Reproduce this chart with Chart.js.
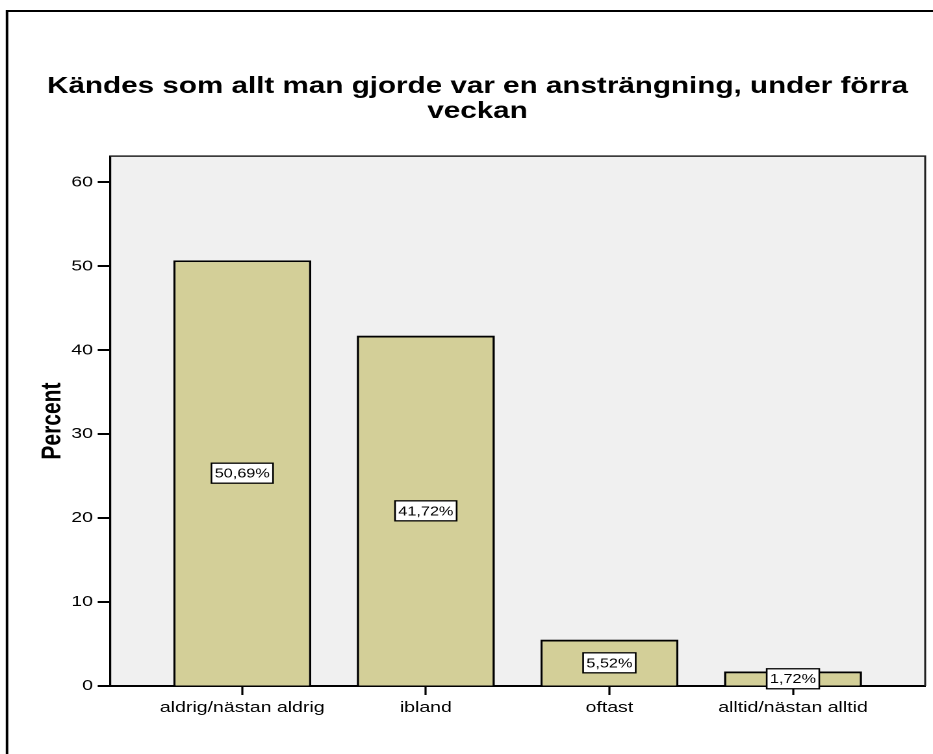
<!DOCTYPE html>
<html>
<head>
<meta charset="utf-8">
<script src="https://cdn.jsdelivr.net/npm/chart.js@4.4.0/dist/chart.umd.min.js"></script>
<style>
  html, body { margin: 0; padding: 0; background: #fff; overflow: hidden; }
  /* the original picture is stretched sideways, so the whole chart is drawn narrow and widened */
  #wrap { width: 718px; height: 754px; transform: scaleX(1.2994); transform-origin: 0 0; }
</style>
</head>
<body>
<div id="wrap"><canvas id="canvas" width="718" height="754"></canvas></div>
<script>
const chartTitle = ['Kändes som allt man gjorde var en ansträngning, under förra', 'veckan'];
const categories = ['aldrig/nästan aldrig', 'ibland', 'oftast', 'alltid/nästan alltid'];
const percents = [50.69, 41.72, 5.52, 1.72];
const yTicks = [0, 10, 20, 30, 40, 50, 60];

const FONT = "'Liberation Sans', Arial, sans-serif";

// grey plot area, frame and the outer page border
const framePlugin = {
    id: 'frame',
    beforeDraw(chart) {
        const ctx = chart.ctx, a = chart.chartArea;
        ctx.save();
        ctx.fillStyle = '#f0f0f0';
        ctx.fillRect(a.left, a.top, a.right - a.left, a.bottom - a.top);
        ctx.strokeStyle = '#000';
        ctx.lineWidth = 2;
        ctx.beginPath();
        ctx.moveTo(5.4, 754);
        ctx.lineTo(5.4, 11);
        ctx.lineTo(718, 11);
        ctx.stroke();
        ctx.restore();
    },
    afterDatasetsDraw(chart) {
        const ctx = chart.ctx, a = chart.chartArea;
        ctx.save();
        ctx.strokeStyle = '#222';
        ctx.lineWidth = 1.5;
        ctx.beginPath();
        ctx.moveTo(a.left, a.top);
        ctx.lineTo(a.right, a.top);
        ctx.lineTo(a.right, a.bottom);
        ctx.stroke();

        // value boxes in the middle of each bar
        const meta = chart.getDatasetMeta(0);
        const y = chart.scales.y;
        ctx.font = '12.5px ' + FONT;
        ctx.textAlign = 'center';
        ctx.textBaseline = 'middle';
        meta.data.forEach((bar, i) => {
            const txt = percents[i].toFixed(2).replace('.', ',') + '%';
            const w = ctx.measureText(txt).width + 5;
            const h = 20;
            const cy = y.getPixelForValue(percents[i] / 2);
            ctx.fillStyle = '#fff';
            ctx.fillRect(bar.x - w / 2, cy - h / 2, w, h);
            ctx.strokeStyle = '#000';
            ctx.lineWidth = 1.3;
            ctx.strokeRect(bar.x - w / 2, cy - h / 2, w, h);
            ctx.fillStyle = '#000';
            ctx.fillText(txt, bar.x, cy + 1);
        });
        ctx.restore();
    }
};

const ctx = document.getElementById('canvas').getContext('2d');
const myChart = new Chart(ctx, {
    type: 'bar',
    data: {
        datasets: [{
            label: 'Percent',
            data: percents.map((v, i) => ({x: i, y: v})),
            backgroundColor: '#d3cf98',
            borderColor: '#000',
            borderWidth: 1.8,
            categoryPercentage: 0.752,
            barPercentage: 1
        }]
    },
    options: {
        responsive: false,
        devicePixelRatio: 2,
        animation: false,
        layout: { padding: { left: 23, right: 6, top: 0, bottom: 0 } },
        plugins: {
            legend: { display: false },
            tooltip: { enabled: false },
            title: {
                display: true,
                text: chartTitle,
                color: '#000',
                font: { family: FONT, size: 22.8, weight: 'bold', lineHeight: 1.1 },
                padding: { top: 74, bottom: 32 }
            }
        },
        scales: {
            x: {
                type: 'linear',
                offset: false,
                min: -0.72,
                max: 3.72,
                afterBuildTicks: s => { s.ticks = categories.map((c, i) => ({value: i})); },
                afterFit: s => { s.height = 68; },
                grid: { offset: false, drawOnChartArea: false, drawTicks: true, tickLength: 9, tickWidth: 1.6, tickColor: '#000' },
                border: { display: true, color: '#000', width: 2 },
                ticks: {
                    autoSkip: false,
                    maxRotation: 0,
                    padding: 4,
                    color: '#000',
                    font: { family: FONT, size: 15 },
                    callback: v => categories[v]
                }
            },
            y: {
                min: 0,
                max: 63.1,
                afterBuildTicks: s => { s.ticks = yTicks.map(v => ({value: v})); },
                afterFit: s => { s.width = 61.7; },
                grid: { drawOnChartArea: false, drawTicks: true, tickLength: 9.5, tickWidth: 2, tickColor: '#000' },
                border: { display: true, color: '#000', width: 1.6 },
                title: {
                    display: true,
                    text: 'Percent',
                    color: '#000',
                    font: { family: FONT, size: 21, weight: 'bold', lineHeight: 1.2 },
                    padding: { top: 5, bottom: 0 }
                },
                ticks: {
                    padding: 3.6,
                    color: '#000',
                    font: { family: FONT, size: 15 }
                }
            }
        }
    },
    plugins: [framePlugin]
});
</script>
</body>
</html>
